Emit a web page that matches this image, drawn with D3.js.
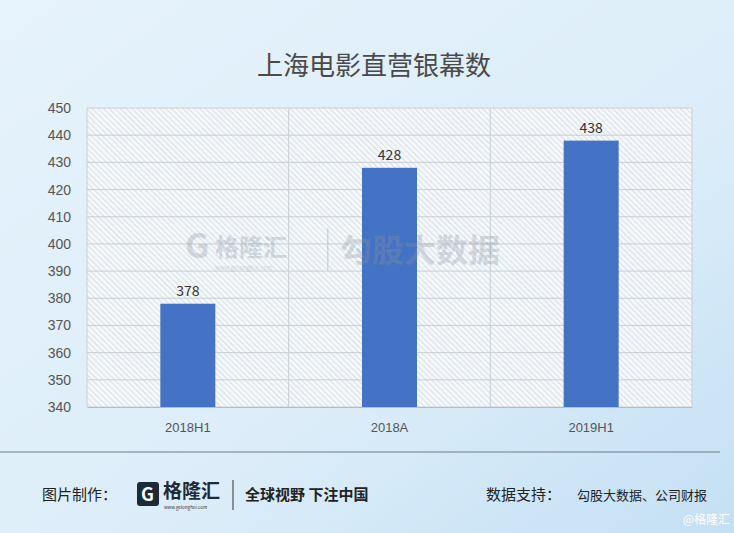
<!DOCTYPE html>
<html><head><meta charset="utf-8">
<script src="https://cdn.jsdelivr.net/npm/d3@7"></script>
<style>body{margin:0;font-family:"Noto Sans CJK SC","Noto Sans",sans-serif}</style>
</head><body><div id="chart"></div>
<script>
const categories = ['2018H1', '2018A', '2019H1'];
const screens = [378, 428, 438];
const yTicks = [340, 350, 360, 370, 380, 390, 400, 410, 420, 430, 440, 450];

const W = 734, H = 533;
const svg = d3.select('#chart').append('svg').attr('width', W).attr('height', H);
const defs = svg.append('defs');

const bg = defs.append('linearGradient').attr('id', 'bg').attr('x1', 0).attr('y1', 0).attr('x2', 1).attr('y2', 1);
bg.append('stop').attr('offset', 0).attr('stop-color', '#e6f3fc');
bg.append('stop').attr('offset', 0.6).attr('stop-color', '#dcedf9');
bg.append('stop').attr('offset', 1).attr('stop-color', '#c4e0f4');
svg.append('rect').attr('width', W).attr('height', H).attr('fill', 'url(#bg)');

// hatch pattern for plot area
const pat = defs.append('pattern').attr('id', 'hatch').attr('width', 4).attr('height', 4)
  .attr('patternUnits', 'userSpaceOnUse').attr('patternTransform', 'rotate(-45)');
pat.append('rect').attr('width', 4).attr('height', 4).attr('fill', '#f4f8fb');
pat.append('line').attr('x1', 0).attr('y1', 0).attr('x2', 0).attr('y2', 4)
  .attr('stroke', '#c9d0d6').attr('stroke-width', 1.2);

svg.append('text').attr('x', 374).attr('y', 75).attr('text-anchor', 'middle')
  .attr('font-size', 26).attr('fill', '#4a4a4a').text('上海电影直营银幕数');

const m = { l: 87, r: 692, t: 108, b: 407 };
const x = d3.scaleBand().domain(categories).range([m.l, m.r]);
const y = d3.scaleLinear().domain([340, 450]).range([m.b, m.t]);

svg.append('rect').attr('x', m.l).attr('y', m.t).attr('width', m.r - m.l).attr('height', m.b - m.t)
  .attr('fill', 'url(#hatch)');

const grid = svg.append('g').attr('stroke', '#c8cfd5').attr('stroke-width', 1);
grid.selectAll('line.h').data(yTicks).join('line').attr('class', 'h')
  .attr('x1', m.l).attr('x2', m.r).attr('y1', d => y(d)).attr('y2', d => y(d));
grid.selectAll('line.v').data(categories.concat(['end'])).join('line').attr('class', 'v')
  .attr('x1', (d, i) => m.l + i * x.step()).attr('x2', (d, i) => m.l + i * x.step())
  .attr('y1', m.t).attr('y2', m.b);

const bw = 55;
svg.selectAll('rect.bar').data(screens).join('rect').attr('class', 'bar')
  .attr('x', (d, i) => x(categories[i]) + x.bandwidth() / 2 - bw / 2)
  .attr('width', bw).attr('y', d => y(d)).attr('height', d => y(340) - y(d))
  .attr('fill', '#4472c4');
svg.selectAll('text.lbl').data(screens).join('text').attr('class', 'lbl')
  .attr('x', (d, i) => x(categories[i]) + x.bandwidth() / 2).attr('y', d => y(d) - 8)
  .attr('text-anchor', 'middle').attr('font-size', 14).attr('fill', '#333').text(d => d);

// watermark
const wm = svg.append('g').attr('opacity', 0.3).attr('fill', '#8a949d');
wm.append('text').attr('x', 185).attr('y', 258).attr('font-size', 34).attr('font-weight', 'bold').text('G');
wm.append('text').attr('x', 215).attr('y', 256).attr('font-size', 24).attr('font-weight', 'bold').text('格隆汇');
wm.append('text').attr('x', 215).attr('y', 270).attr('font-size', 6).text('www.gelonghui.com');
wm.append('rect').attr('x', 327).attr('y', 228).attr('width', 1.5).attr('height', 42);
wm.append('text').attr('x', 340).attr('y', 262).attr('font-size', 32).attr('font-weight', 'bold').text('勾股大数据');

const ya = svg.append('g').attr('transform', `translate(${m.l},0)`)
  .call(d3.axisLeft(y).tickValues(yTicks).tickSize(0).tickPadding(16));
ya.select('.domain').remove();
ya.selectAll('text').attr('font-size', 14).attr('fill', '#555').attr('font-family', 'Liberation Sans, sans-serif');

const xa = svg.append('g').attr('transform', `translate(0,${m.b})`)
  .call(d3.axisBottom(x).tickSize(0).tickPadding(16));
xa.select('.domain').attr('stroke', '#bbb');
xa.selectAll('text').attr('font-size', 13).attr('fill', '#555').attr('font-family', 'Liberation Sans, sans-serif');

// footer
svg.append('line').attr('x1', 0).attr('x2', 720).attr('y1', 452).attr('y2', 452).attr('stroke', '#6f7d89').attr('stroke-width', 1);
svg.append('text').attr('x', 42).attr('y', 500).attr('font-size', 15).attr('fill', '#222').text('图片制作：');
svg.append('rect').attr('x', 137).attr('y', 482).attr('width', 22).attr('height', 24).attr('rx', 3).attr('fill', '#1d2a3a');
svg.append('text').attr('x', 141).attr('y', 501).attr('font-size', 18).attr('font-weight', 'bold').attr('fill', '#fff').text('G');
svg.append('text').attr('x', 163).attr('y', 498).attr('font-size', 19).attr('font-weight', 'bold').attr('fill', '#1d2a3a').text('格隆汇');
svg.append('text').attr('x', 164).attr('y', 509).attr('font-size', 4.5).attr('fill', '#333').text('www.gelonghui.com');
svg.append('line').attr('x1', 233).attr('x2', 233).attr('y1', 480).attr('y2', 510).attr('stroke', '#333');
svg.append('text').attr('x', 245).attr('y', 500).attr('font-size', 15).attr('font-weight', 'bold').attr('fill', '#222').text('全球视野 下注中国');
svg.append('text').attr('x', 486).attr('y', 500).attr('font-size', 15).attr('fill', '#222').text('数据支持：');
svg.append('text').attr('x', 577).attr('y', 500).attr('font-size', 13).attr('fill', '#222').text('勾股大数据、公司财报');
svg.append('text').attr('x', 730).attr('y', 524).attr('text-anchor', 'end').attr('font-size', 12).attr('fill', '#fff').text('@格隆汇');
</script></body></html>
